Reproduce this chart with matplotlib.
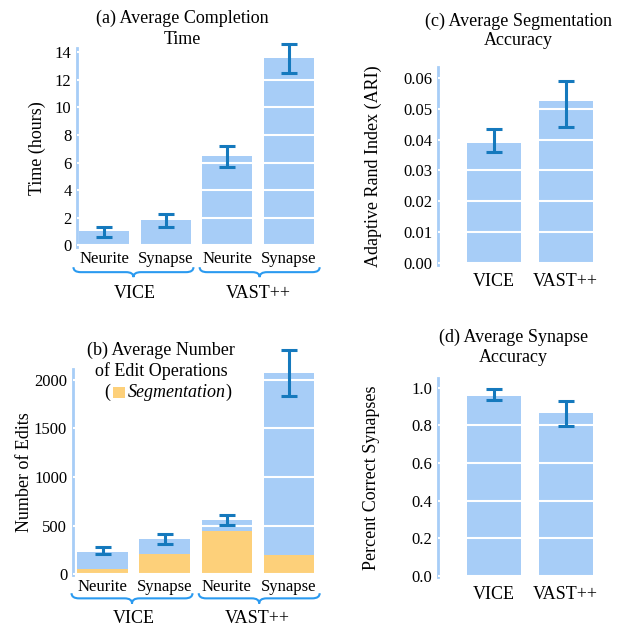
import matplotlib
matplotlib.use('Agg')
import matplotlib.pyplot as plt
from matplotlib.path import Path
from matplotlib.patches import PathPatch, Rectangle
import matplotlib.transforms as mtransforms

plt.rcParams['font.family'] = ['Liberation Serif', 'DejaVu Serif']
plt.rcParams['font.size'] = 12

# data
task_labels = ['Neurite', 'Synapse', 'Neurite', 'Synapse']
tools = ['VICE', 'VAST++']

time_mean = [1.05, 1.8, 6.5, 13.6]
time_lo = [0.6, 1.3, 5.7, 12.5]
time_hi = [1.35, 2.3, 7.2, 14.6]

edits_total = [230, 365, 560, 2070]
edits_seg = [50, 210, 440, 200]
edits_lo = [210, 310, 510, 1830]
edits_hi = [280, 410, 610, 2310]

ari_mean = [0.039, 0.0525]
ari_lo = [0.036, 0.044]
ari_hi = [0.0435, 0.059]

syn_mean = [0.955, 0.865]
syn_lo = [0.935, 0.795]
syn_hi = [0.99, 0.93]

BLUE = '#a7cdf7'
ORANGE = '#fdd07a'
ERR = '#1579bd'
BRACE = '#2a9af0'
SPINE = '#a7cdf7'


def style_axes(ax, yticks):
  for s in ['top', 'right', 'bottom']:
    ax.spines[s].set_visible(False)
  ax.spines['left'].set_color(SPINE)
  ax.spines['left'].set_linewidth(2)
  ax.set_yticks(yticks)
  ax.tick_params(axis='both', length=0)
  ax.tick_params(axis='y', pad=4)
  ax.grid(axis='y', color='white', linewidth=1.5)
  ax.set_axisbelow(False)


def errbars(ax, x, mean, lo, hi):
  err = [[m - l for m, l in zip(mean, lo)], [h - m for m, h in zip(mean, hi)]]
  ax.errorbar(x, mean, yerr=err, fmt='none', ecolor=ERR, elinewidth=2.2,
              capsize=6, capthick=2.2, zorder=4, clip_on=False)


def draw_brace(ax, x0, x1, y, h):
  trans = mtransforms.blended_transform_factory(ax.transData, ax.transAxes)
  xm = (x0 + x1) / 2.0
  r = 0.12
  verts = [(x0, y), (x0, y - h / 2), (x0 + r, y - h / 2),
           (xm - r, y - h / 2), (xm, y - h / 2), (xm, y - h),
           (xm, y - h / 2), (xm + r, y - h / 2),
           (x1 - r, y - h / 2), (x1, y - h / 2), (x1, y)]
  codes = [Path.MOVETO, Path.CURVE3, Path.CURVE3,
           Path.LINETO, Path.CURVE3, Path.CURVE3,
           Path.CURVE3, Path.CURVE3,
           Path.LINETO, Path.CURVE3, Path.CURVE3]
  ax.add_patch(PathPatch(Path(verts, codes), transform=trans, fill=False,
                         edgecolor=BRACE, linewidth=1.5, clip_on=False))


def group_labels(ax, ylab, ybrace, ygroup):
  trans = mtransforms.blended_transform_factory(ax.transData, ax.transAxes)
  for i, t in enumerate(task_labels):
    ax.text(i, ylab, t, transform=trans, ha='center', va='top', fontsize=12)
  draw_brace(ax, -0.5, 1.45, ybrace, 0.05)
  draw_brace(ax, 1.55, 3.5, ybrace, 0.05)
  ax.text(0.5, ygroup, tools[0], transform=trans, ha='center', va='top', fontsize=13)
  ax.text(2.5, ygroup, tools[1], transform=trans, ha='center', va='top', fontsize=13)


fig = plt.figure(figsize=(6.22, 6.26), dpi=100)

x4 = list(range(4))
x2 = list(range(2))

# (a)
ax_a = fig.add_axes([0.124, 0.605, 0.384, 0.318])
ax_a.bar(x4, time_mean, width=0.81, color=BLUE, zorder=1)
errbars(ax_a, x4, time_mean, time_lo, time_hi)
ax_a.set_xlim(-0.44, 3.44)
ax_a.set_ylim(-0.15, 14.3)
style_axes(ax_a, [0, 2, 4, 6, 8, 10, 12, 14])
ax_a.set_xticks([])
ax_a.set_ylabel('Time (hours)', fontsize=13, labelpad=6)
fig.text(0.293, 0.954, '(a) Average Completion\nTime', ha='center', va='center',
         fontsize=13, linespacing=1.25)
group_labels(ax_a, -0.02, -0.1, -0.19)

# (b)
ax_b = fig.add_axes([0.117, 0.082, 0.391, 0.329])
ax_b.bar(x4, edits_total, width=0.81, color=BLUE, zorder=1)
ax_b.bar(x4, edits_seg, width=0.81, color=ORANGE, zorder=1.5)
errbars(ax_b, x4, edits_total, edits_lo, edits_hi)
ax_b.set_xlim(-0.48, 3.44)
ax_b.set_ylim(-5, 2113)
style_axes(ax_b, [0, 500, 1000, 1500, 2000])
ax_b.set_xticks([])
ax_b.set_ylabel('Number of Edits', fontsize=13, labelpad=1)
fig.text(0.259, 0.424, '(b) Average Number\nof Edit Operations', ha='center', va='center',
         fontsize=13, linespacing=1.25)
fig.text(0.168, 0.373, '(', ha='left', va='center', fontsize=13)
fig.patches.append(Rectangle((0.182, 0.364), 0.019, 0.018, transform=fig.transFigure,
                             facecolor=ORANGE, edgecolor='none', figure=fig))
fig.text(0.205, 0.373, 'Segmentation', ha='left', va='center', fontsize=13, style='italic')
fig.text(0.362, 0.373, ')', ha='left', va='center', fontsize=13)
group_labels(ax_b, -0.02, -0.09, -0.17)

# (c)
ax_c = fig.add_axes([0.704, 0.577, 0.28, 0.316])
ax_c.bar(x2, ari_mean, width=0.76, color=BLUE, zorder=1)
errbars(ax_c, x2, ari_mean, ari_lo, ari_hi)
ax_c.set_xlim(-0.79, 1.65)
ax_c.set_ylim(-0.0007, 0.0636)
style_axes(ax_c, [0.0, 0.01, 0.02, 0.03, 0.04, 0.05, 0.06])
ax_c.set_yticklabels(['0.00', '0.01', '0.02', '0.03', '0.04', '0.05', '0.06'])
ax_c.set_xticks(x2)
ax_c.set_xticklabels(tools, fontsize=13)
ax_c.tick_params(axis='x', pad=6)
ax_c.set_ylabel('Adaptive Rand Index (ARI)', fontsize=13, labelpad=15)
fig.text(0.834, 0.951, '(c) Average Segmentation\nAccuracy', ha='center', va='center',
         fontsize=13, linespacing=1.2)

# (d)
ax_d = fig.add_axes([0.704, 0.078, 0.28, 0.318])
ax_d.bar(x2, syn_mean, width=0.76, color=BLUE, zorder=1)
errbars(ax_d, x2, syn_mean, syn_lo, syn_hi)
ax_d.set_xlim(-0.79, 1.65)
ax_d.set_ylim(-0.005, 1.05)
style_axes(ax_d, [0.0, 0.2, 0.4, 0.6, 0.8, 1.0])
ax_d.set_yticklabels(['0.0', '0.2', '0.4', '0.6', '0.8', '1.0'])
ax_d.set_xticks(x2)
ax_d.set_xticklabels(tools, fontsize=13)
ax_d.tick_params(axis='x', pad=6)
ax_d.set_ylabel('Percent Correct Synapses', fontsize=13, labelpad=23)
fig.text(0.825, 0.445, '(d) Average Synapse\nAccuracy', ha='center', va='center',
         fontsize=13, linespacing=1.2)

fig.savefig('out.png', dpi=100)
